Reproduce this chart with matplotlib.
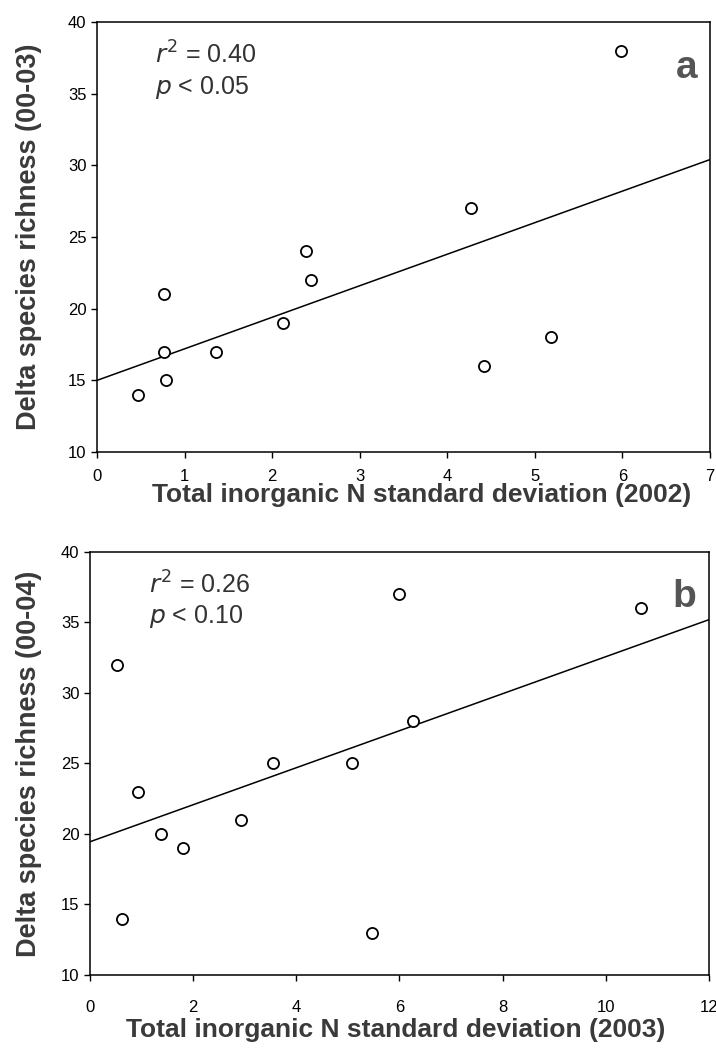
import matplotlib
matplotlib.use("Agg")
import matplotlib.pyplot as plt
import numpy as np

plt.rcParams['font.family'] = ['Liberation Sans', 'DejaVu Sans']

# panel a: N standard deviation 2002 vs delta richness 00-03
sd_2002 = [0.47, 0.76, 0.77, 0.79, 1.36, 2.12, 2.39, 2.44, 4.27, 4.42, 5.18, 5.99]
rich_0003 = [14, 17, 21, 15, 17, 19, 24, 22, 27, 16, 18, 38]
fit_a = [15.0, 30.4]   # line value at x = 0 and x = 7

# panel b: N standard deviation 2003 vs delta richness 00-04
sd_2003 = [0.53, 0.63, 0.93, 1.38, 1.80, 2.92, 3.55, 5.08, 5.47, 6.0, 6.27, 10.68]
rich_0004 = [32, 14, 23, 20, 19, 21, 25, 25, 13, 37, 28, 36]
fit_b = [19.45, 35.2]  # line value at x = 0 and x = 12

panels = [
    dict(x=sd_2002, y=rich_0003, fit=fit_a, xmax=7, xticks=np.arange(0, 8, 1),
         ylabel="Delta species richness (00-03)",
         xlabel="Total inorganic N standard deviation (2002)",
         r2="0.40", p="0.05", letter="a", xpad=8,
         xlab_pos=(0.53, -0.072), ylab_pos=(-0.09, 0.5),
         rect=[0.1355, 0.5703, 0.856, 0.4088]),
    dict(x=sd_2003, y=rich_0004, fit=fit_b, xmax=12, xticks=np.arange(0, 13, 2),
         ylabel="Delta species richness (00-04)",
         xlabel="Total inorganic N standard deviation (2003)",
         r2="0.26", p="0.10", letter="b", xpad=14,
         xlab_pos=(0.494, -0.102), ylab_pos=(-0.078, 0.5),
         rect=[0.1257, 0.0732, 0.8645, 0.4021]),
]

fig = plt.figure(figsize=(7.16, 10.52), dpi=100)

for pn in panels:
    ax = fig.add_axes(pn["rect"])
    ax.plot([0, pn["xmax"]], pn["fit"], color="black", lw=1.1, zorder=2)
    ax.plot(pn["x"], pn["y"], "o", ms=8, mfc="white", mec="black", mew=1.3,
            zorder=3, clip_on=False)
    ax.set_xlim(0, pn["xmax"])
    ax.set_ylim(10, 40)
    ax.set_xticks(pn["xticks"])
    ax.set_yticks(np.arange(10, 41, 5))
    ax.tick_params(direction="out", length=4, width=1, labelsize=12,
                   colors="black")
    ax.tick_params(axis="x", pad=pn["xpad"])
    for s in ax.spines.values():
        s.set_linewidth(1.1)
    ax.set_ylabel(pn["ylabel"], fontsize=19.5, fontweight="bold", color="#3a3a3a")
    ax.set_xlabel(pn["xlabel"], fontsize=19, fontweight="bold", color="#3a3a3a")
    ax.yaxis.set_label_coords(*pn["ylab_pos"])
    ax.xaxis.set_label_coords(*pn["xlab_pos"])
    ax.text(0.095, 0.955, r"$r^2$ = " + pn["r2"], transform=ax.transAxes,
            fontsize=18, color="#333333", va="top", ha="left")
    ax.text(0.095, 0.88, r"$p$ < " + pn["p"], transform=ax.transAxes,
            fontsize=18, color="#333333", va="top", ha="left")
    ax.text(0.979, 0.935, pn["letter"], transform=ax.transAxes, fontsize=28,
            fontweight="bold", color="#555555", va="top", ha="right")

fig.savefig("out.png", dpi=100)
